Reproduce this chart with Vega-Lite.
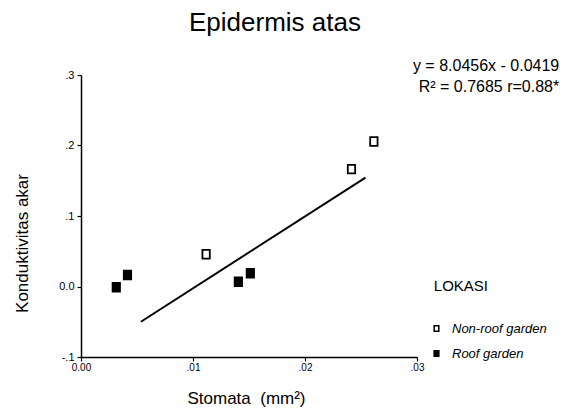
{
  "$schema": "https://vega.github.io/schema/vega-lite/v6.json",
  "width": 336,
  "height": 282,
  "autosize": {"type": "none"},
  "padding": {"left": 81, "top": 75, "right": 147, "bottom": 51},
  "background": "white",
  "config": {
    "view": {"stroke": null},
    "font": "Liberation Sans",
    "axis": {"grid": false, "domainColor": "black", "domainWidth": 1.5, "tickColor": "black", "tickWidth": 1.2, "tickSize": 4, "labelColor": "black", "labelFont": "Liberation Sans", "labelFontSize": 10, "titleColor": "black", "titleFont": "Liberation Sans", "titleFontWeight": "normal", "labelOverlap": false, "labelFlush": false}
  },
  "title": {"text": "Epidermis atas", "font": "Liberation Sans", "fontSize": 26, "fontWeight": "normal", "color": "black", "anchor": "middle", "frame": "group", "dx": 26, "offset": 22},
  "datasets": {
    "points": [
      {"Stomata": 0.00315, "Konduktivitas": -0.001, "Lokasi": "Roof garden"},
      {"Stomata": 0.00415, "Konduktivitas": 0.0163, "Lokasi": "Roof garden"},
      {"Stomata": 0.01405, "Konduktivitas": 0.0068, "Lokasi": "Roof garden"},
      {"Stomata": 0.01512, "Konduktivitas": 0.0187, "Lokasi": "Roof garden"},
      {"Stomata": 0.01117, "Konduktivitas": 0.0457, "Lokasi": "Non-roof garden"},
      {"Stomata": 0.02415, "Konduktivitas": 0.1665, "Lokasi": "Non-roof garden"},
      {"Stomata": 0.02615, "Konduktivitas": 0.2057, "Lokasi": "Non-roof garden"}
    ],
    "fit": [
      {"Stomata": 0.00535, "Konduktivitas": -0.050},
      {"Stomata": 0.0254, "Konduktivitas": 0.1545}
    ],
    "notes": [
      {"Stomata": 0.0427, "Konduktivitas": 0.305, "label": "y = 8.0456x - 0.0419"},
      {"Stomata": 0.0427, "Konduktivitas": 0.276, "label": "R² = 0.7685 r=0.88*"}
    ]
  },
  "layer": [
    {
      "data": {"name": "fit"},
      "mark": {"type": "line", "color": "black", "strokeWidth": 2},
      "encoding": {
        "x": {"field": "Stomata", "type": "quantitative", "scale": {"domain": [0, 0.03], "nice": false, "zero": false},
          "axis": {"title": "Stomata \u00a0(mm²)", "titleFontSize": 17, "values": [0, 0.01, 0.02, 0.03], "labelExpr": "datum.value == 0 ? '0.00' : replace(format(datum.value, '.2f'), '0.', '.')", "titleY": 46, "titleBaseline": "alphabetic", "titleX": 165, "labelPadding": 1}},
        "y": {"field": "Konduktivitas", "type": "quantitative", "scale": {"domain": [-0.1, 0.3], "nice": false, "zero": false},
          "axis": {"title": "Konduktivitas akar", "titleFontSize": 17, "values": [-0.1, 0, 0.1, 0.2, 0.3], "labelFontSize": 11, "labelExpr": "datum.value == 0 ? '0.0' : replace(replace(format(datum.value, '.1f'), '0.', '.'), '\u2212', '-')", "titleX": -54, "titleY": 168, "titleAngle": -90, "titleAlign": "center", "titleBaseline": "alphabetic", "labelPadding": 3}}
      }
    },
    {
      "data": {"name": "points"},
      "mark": {"type": "point", "filled": true, "shape": "M-0.85,-1H0.85V1H-0.85Z", "size": 75, "stroke": "black", "strokeWidth": 1.8, "opacity": 1},
      "encoding": {
        "x": {"field": "Stomata", "type": "quantitative"},
        "y": {"field": "Konduktivitas", "type": "quantitative"},
        "fill": {"field": "Lokasi", "type": "nominal", "scale": {"domain": ["Non-roof garden", "Roof garden"], "range": ["white", "black"]},
          "legend": {"title": "LOKASI", "orient": "none", "legendX": 349, "legendY": 204, "padding": 0, "titleFont": "Liberation Sans", "titleFontSize": 15, "titleFontWeight": "normal", "titleColor": "black", "titlePadding": 28, "titleAnchor": "middle", "titleAlign": "right", "labelFont": "Liberation Sans", "labelFontSize": 13, "labelFontStyle": "italic", "labelColor": "black", "labelOffset": 9, "rowPadding": 11, "symbolType": "M-0.85,-1H0.85V1H-0.85Z", "symbolSize": 30, "symbolStrokeColor": "black", "symbolStrokeWidth": 1.5}}
      }
    },
    {
      "data": {"name": "notes"},
      "mark": {"type": "text", "align": "right", "baseline": "alphabetic", "font": "Liberation Sans", "fontSize": 16, "color": "black"},
      "encoding": {
        "x": {"field": "Stomata", "type": "quantitative"},
        "y": {"field": "Konduktivitas", "type": "quantitative"},
        "text": {"field": "label"}
      }
    }
  ]
}
